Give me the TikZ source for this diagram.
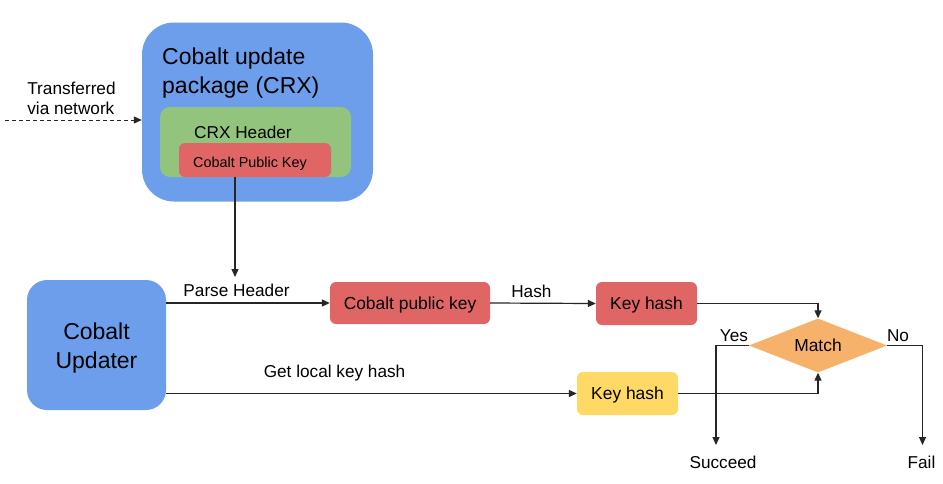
\documentclass[tikz,border=0pt]{standalone}
\usepackage{fontspec}
\setmainfont{Liberation Sans}
\usetikzlibrary{shapes.geometric,arrows.meta}
\definecolor{cblue}{HTML}{6D9EEB}
\definecolor{cgreen}{HTML}{93C47D}
\definecolor{cred}{HTML}{E06666}
\definecolor{corange}{HTML}{F6B26B}
\definecolor{cyellow}{HTML}{FFD966}
\begin{document}
\begin{tikzpicture}[x=1pt,y=-1pt,
  boxbase/.style={inner sep=0pt, text depth=0pt, font=\fontsize{17.4}{20}\selectfont},
  bigtxt/.style={font=\fontsize{23}{29}\selectfont},
  midtxt/.style={font=\fontsize{17.2}{20}\selectfont, inner sep=0pt},
  arr/.style={draw=black!85, line width=1.2pt, -{Triangle[length=8pt,width=7pt]}},
  ln/.style={draw=black!85, line width=1.2pt}
]
\useasboundingbox (0,0) rectangle (943,483);
\fill[white] (0,0) rectangle (943,483);
% package
\node[boxbase, fill=cblue, rounded corners=32pt, minimum width=231pt, minimum height=179pt] (pkg) at (257.5,112) {};
\node[bigtxt, anchor=west, align=left, inner sep=0pt] (pkgtxt) at (162,73) {Cobalt update\\package (CRX)};
\node[boxbase, fill=cgreen, rounded corners=10pt, minimum width=191pt, minimum height=70pt] (hdr) at (255.5,142) {};
\node[midtxt] (hdrtxt) at (243,132) {CRX Header};
\node[boxbase, fill=cred, rounded corners=6pt, minimum width=152pt, minimum height=34pt, font=\fontsize{14.4}{17}\selectfont] (cpk) at (255,160) {};
\node[inner sep=0pt, font=\fontsize{14.4}{17}\selectfont] (cpktxt) at (250,164) {Cobalt Public Key};
% network
\node[midtxt, align=left] (net) at (71.5,98) {Transferred\\via network};
\coordinate (netstart) at (5,120);
\draw[arr, dashed, line width=1pt, dash pattern=on 4pt off 3pt] (netstart) -- (netstart -| pkg.west);
% updater
\node[boxbase, fill=cblue, rounded corners=20pt, minimum width=139pt, minimum height=130pt] (upd) at (96.5,345) {};
\node[inner sep=0pt, align=center, font=\fontsize{23}{28.5}\selectfont] (updtxt) at (96.5,348) {Cobalt\\Updater};
% parse down arrow
\coordinate (parseend) at (235,277);
\draw[arr] (cpk.south -| parseend) -- (parseend);
% public key
\node[boxbase, fill=cred, rounded corners=6pt, minimum width=160pt, minimum height=42pt] (pk) at (410,303) {Cobalt public key};
\node[boxbase, fill=cred, rounded corners=6pt, minimum width=101pt, minimum height=43pt] (kh1) at (646.5,303.5) {Key hash};
\node[boxbase, fill=cyellow, rounded corners=6pt, minimum width=101pt, minimum height=43pt] (kh2) at (627.5,393.5) {Key hash};
\node[diamond, fill=corange, inner sep=0pt, minimum width=138pt, minimum height=54pt, aspect=2.55, font=\fontsize{17.4}{20}\selectfont] (match) at (818,345.5) {Match};
% arrows
\draw[arr] (upd.east |- pk.west) -- (pk.west) node[pos=0.43, above=6pt, midtxt] {Parse Header};
\draw[arr] (pk.east) -- (kh1.west) node[pos=0.39, above=5pt, midtxt] {Hash};
\draw[arr] (upd.east |- kh2.west) -- (kh2.west) node[pos=0.41, above=12pt, midtxt] {Get local key hash};
\draw[arr] (kh1.east) -| (match.north);
\draw[arr] (kh2.east) -| (match.south);
% outcomes
\coordinate (yesend) at (716,445);
\coordinate (noend) at (922.5,445);
\draw[arr] (match.west) -| (yesend);
\draw[arr] (match.east) -| (noend);
\node[midtxt] (yes) at (734,336) {Yes};
\node[midtxt] (no) at (898,336) {No};
\node[midtxt] (succ) at (723,462) {Succeed};
\node[midtxt] (fail) at (921.5,462) {Fail};
\end{tikzpicture}
\end{document}
